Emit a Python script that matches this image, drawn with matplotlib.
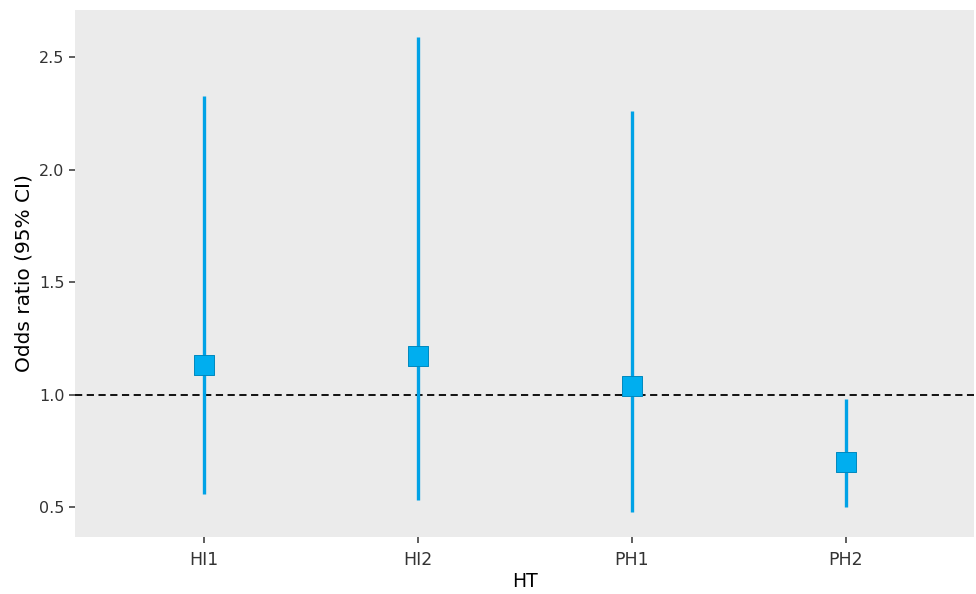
import matplotlib.pyplot as plt
import numpy as np

groups = ["HI1", "HI2", "PH1", "PH2"]
odds = [1.133, 1.173, 1.036, 0.702]
lower = [0.556, 0.533, 0.476, 0.502]
upper = [2.329, 2.591, 2.262, 0.982]
y_ticks = [0.5, 1.0, 1.5, 2.0, 2.5]


def main():
    fig = plt.figure(figsize=(9.76, 5.94), dpi=100)
    ax = fig.add_axes([0.077, 0.096, 0.921, 0.887])
    ax.set_facecolor("#EBEBEB")

    x = np.arange(1, len(groups) + 1)

    ax.axhline(1.0, color="black", linestyle=(0, (4, 2.5)), linewidth=1.3, zorder=1)
    ax.vlines(x, lower, upper, color="#00A2E6", linewidth=2.4, zorder=2)
    ax.scatter(x, odds, marker="s", s=210, color="#00AEEF",
               edgecolors="#0088BE", linewidths=0.7, zorder=3)

    ax.set_xlim(0.4, 4.6)
    ax.set_ylim(0.367, 2.709)
    ax.set_xticks(x)
    ax.set_xticklabels(groups)
    ax.set_yticks(y_ticks)
    ax.set_yticklabels([f"{v:.1f}" for v in y_ticks])

    for spine in ax.spines.values():
        spine.set_visible(False)
    ax.tick_params(axis="both", length=4, width=1.1, color="#333333",
                   labelsize=11.5, labelcolor="#333333")
    ax.tick_params(axis="x", labelsize=12.5, pad=6)

    ax.set_xlabel("HT", fontsize=13.5, labelpad=2)
    ax.set_ylabel("Odds ratio (95% CI)", fontsize=14.5, labelpad=4)

    fig.savefig("out.png", dpi=100)
    plt.close(fig)


if __name__ == "__main__":
    main()
